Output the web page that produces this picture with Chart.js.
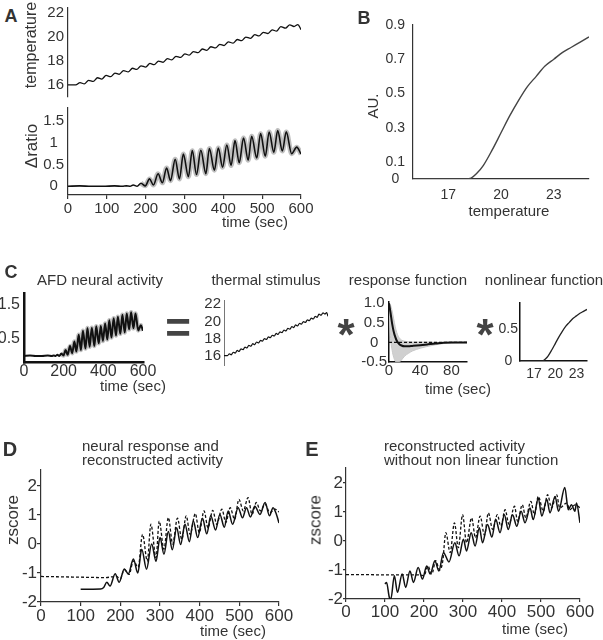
<!DOCTYPE html>
<html lang="en">
<head>
<meta charset="utf-8">
<title>AFD thermal response model</title>
<script src="https://cdn.jsdelivr.net/npm/chart.js@4.4.1/dist/chart.umd.min.js"></script>
<style>
  body { margin: 0; background: #fff; }
  #fig { position: relative; width: 603px; height: 640px; overflow: hidden;
         font-family: "Liberation Sans", Arial, sans-serif; color: #333; }
  #fig canvas { position: absolute; }
  .t { position: absolute; transform: translate(-50%, -50%); line-height: 1; white-space: nowrap; }
  .r { position: absolute; transform: translate(-50%, -50%) rotate(-90deg); line-height: 1; white-space: nowrap; }
  .b { font-weight: bold; }
  .ttl { position: absolute; font-size: 15px; line-height: 14px; white-space: nowrap; }
</style>
</head>
<body>
<div id="fig">
  <canvas id="cTemp"></canvas>
  <canvas id="cRatio"></canvas>
  <canvas id="cSig"></canvas>
  <canvas id="cAfd"></canvas>
  <canvas id="cStim"></canvas>
  <canvas id="cResp"></canvas>
  <canvas id="cNonlin"></canvas>
  <canvas id="cD"></canvas>
  <canvas id="cE"></canvas>

  <!-- panel A -->
  <div class="t b" style="left:11px;top:16px;font-size:18px">A</div>
  <div class="r" style="left:31px;top:45px;font-size:16px">temperature</div>
  <div class="r" style="left:31px;top:146px;font-size:17px">&Delta;ratio</div>
  <div class="t" style="left:255px;top:221px;font-size:15px">time (sec)</div>

  <!-- panel B -->
  <div class="t b" style="left:364px;top:18px;font-size:18px">B</div>
  <div class="r" style="left:372px;top:106px;font-size:15px">AU.</div>
  <div class="t" style="left:509px;top:210px;font-size:15px">temperature</div>

  <!-- panel C -->
  <div class="t b" style="left:11px;top:272px;font-size:18px">C</div>
  <div class="t" style="left:100px;top:279px;font-size:15px">AFD neural activity</div>
  <div class="t" style="left:266px;top:279px;font-size:15px">thermal stimulus</div>
  <div class="t" style="left:408px;top:279px;font-size:15px">response function</div>
  <div class="t" style="left:544px;top:279px;font-size:15px">nonlinear function</div>
  <div class="t b" style="left:178px;top:328px;font-size:44px;color:#444">=</div>
  <div class="t b" style="left:346px;top:335px;font-size:44px;color:#444">*</div>
  <div class="t b" style="left:485px;top:335px;font-size:44px;color:#444">*</div>
  <div class="t" style="left:133px;top:385px;font-size:15px">time (sec)</div>
  <div class="t" style="left:458px;top:388px;font-size:15px">time (sec)</div>

  <!-- panel D -->
  <div class="t b" style="left:10px;top:449px;font-size:20px">D</div>
  <div class="ttl" style="left:82px;top:439px">neural response and<br>reconstructed activity</div>
  <div class="r" style="left:12px;top:520px;font-size:17px">zscore</div>
  <div class="t" style="left:233px;top:630px;font-size:15px">time (sec)</div>

  <!-- panel E -->
  <div class="t b" style="left:312px;top:449px;font-size:20px">E</div>
  <div class="ttl" style="left:384px;top:439px">reconstructed activity<br>without non linear function</div>
  <div class="r" style="left:315px;top:520px;font-size:17px">zscore</div>
  <div class="t" style="left:535px;top:628px;font-size:15px">time (sec)</div>
</div>

<script>
// ---------------- values ----------------
// A (top) / C thermal stimulus: temperature ramp
const tempTime = [0, 20, 31, 42, 53, 65, 76, 87, 98, 110, 121, 132, 143, 155, 166, 177, 188, 200,
  211, 222, 233, 245, 256, 267, 278, 290, 301, 312, 323, 335, 346, 357, 368, 380, 391, 402, 413,
  425, 436, 447, 458, 470, 481, 492, 503, 515, 526, 537, 548, 560, 571, 582, 592, 600];
const tempVal = [16.0, 16.0, 16.2, 16.09, 16.39, 16.3, 16.6, 16.49, 16.79, 16.7, 16.99, 16.89,
  17.19, 17.09, 17.39, 17.29, 17.59, 17.49, 17.79, 17.69, 17.99, 17.89, 18.19, 18.09, 18.38, 18.29,
  18.59, 18.48, 18.78, 18.69, 18.99, 18.88, 19.18, 19.09, 19.38, 19.28, 19.58, 19.48, 19.78, 19.68,
  19.98, 19.88, 20.18, 20.08, 20.37, 20.28, 20.58, 20.48, 20.85, 20.72, 21.0, 20.86, 21.02, 20.6];

// A (bottom) / C AFD neural activity: delta ratio
const ratioTime = [0, 30, 60, 90, 120, 140, 150, 160, 168, 178, 188, 199, 210, 220, 232, 243, 254,
  264, 276, 287, 297, 310, 320, 331, 342, 355, 364, 377, 387, 398, 409, 420, 430, 441, 452, 464,
  473, 486, 496, 508, 518, 530, 540, 552, 562, 576, 589, 600];
const ratioVal = [0.0, 0.01, 0.0, 0.0, 0.01, 0.0, 0.01, 0.0, 0.03, 0.0, 0.07, 0.01, 0.17, 0.03,
  0.29, 0.08, 0.42, 0.13, 0.62, 0.17, 0.74, 0.22, 0.82, 0.27, 0.83, 0.29, 0.87, 0.37, 0.88, 0.44,
  0.95, 0.48, 1.05, 0.54, 1.11, 0.6, 1.15, 0.65, 1.21, 0.69, 1.25, 0.78, 1.28, 0.81, 1.25, 0.75,
  0.9, 0.74];
const bandFrom = 10; // grey SEM band only visible once the oscillations start

// B / C nonlinear function
const sigTemp = [15, 16, 17, 18, 18.3, 18.6, 19, 19.5, 20, 20.5, 21, 21.5, 22, 22.5, 23, 23.5, 24, 24.5, 25];
const sigVal = [0, 0, 0, 0, 0.005, 0.03, 0.08, 0.17, 0.27, 0.37, 0.46, 0.54, 0.6, 0.66, 0.7, 0.74, 0.77, 0.8, 0.83];

// C response function (mean and spread of the fits)
const respTime = [0, 2, 4, 6, 8, 10, 13, 16, 20, 25, 30, 40, 50, 60, 70, 80, 90, 100];
const respMean = [1.0, 0.75, 0.48, 0.28, 0.14, 0.04, -0.04, -0.08, -0.1, -0.1, -0.09, -0.07, -0.05, -0.03, -0.01, 0, 0, 0];
const respUpper = [1.0, 0.95, 0.8, 0.6, 0.4, 0.25, 0.12, 0.06, 0.03, 0.02, 0.01, 0.01, 0.01, 0, 0, 0, 0, 0];
const respLower = [0.9, 0.1, -0.2, -0.38, -0.48, -0.5, -0.5, -0.45, -0.35, -0.28, -0.22, -0.15, -0.1, -0.06, -0.03, -0.02, -0.01, -0.01];
const respZeroTime = [0, 100];
const respZeroVal = [0, 0];

// D: neural response (solid) and reconstructed activity (dashed)
const dSolidTime = [100, 150, 158, 166, 174, 187, 197, 210, 220, 233, 244, 254, 266, 279, 290, 300,
  310, 321, 331, 342, 352, 363, 374, 384, 395, 407, 418, 428, 440, 451, 462, 472, 483, 497, 508,
  518, 528, 539, 552, 565, 576, 585, 594, 600];
const dSolidVal = [-1.56, -1.55, -1.5, -1.32, -1.45, -1.03, -1.32, -0.86, -1.03, -0.52, -1.0, -0.18,
  -0.87, 0.0, -0.6, 0.22, -0.35, 0.43, -0.2, 0.56, -0.02, 0.68, 0.08, 0.79, 0.22, 0.89, 0.35, 0.97,
  0.48, 1.02, 0.58, 1.14, 0.68, 1.25, 0.9, 1.25, 0.93, 1.3, 1.02, 1.43, 0.97, 1.25, 1.0, 0.72];
const dDashTime = [0, 40, 80, 120, 160, 190, 200, 210, 222, 233, 245, 256, 268, 277, 290, 298, 310,
  321, 332, 344, 355, 366, 376, 389, 399, 411, 421, 433, 443, 456, 466, 477, 488, 499, 510, 522,
  532, 543, 553, 565, 577, 590, 600];
const dDashVal = [-1.12, -1.13, -1.14, -1.15, -1.16, -1.12, -1.2, -0.88, -1.05, -0.58, -0.8, 0.33,
  -0.59, 0.68, -0.47, 0.79, -0.18, 0.91, 0.0, 0.89, 0.16, 0.97, 0.33, 1.05, 0.39, 1.14, 0.56, 1.16,
  0.68, 1.2, 0.74, 1.25, 0.85, 1.54, 1.14, 1.6, 1.02, 1.43, 1.14, 1.37, 1.08, 1.2, 1.1];

// E: reconstruction without the nonlinear function (solid) and dashed trace
const eSolidTime = [100, 104, 111, 115, 124, 132, 144, 153, 164, 173, 185, 196, 207, 216, 228, 238,
  250, 264, 279, 290, 301, 309, 321, 331, 342, 350, 363, 374, 384, 395, 406, 416, 427, 438, 449,
  459, 472, 480, 493, 502, 515, 523, 536, 545, 561, 570, 578, 587, 591, 600];
const eSolidVal = [-1.48, -1.43, -1.94, -2.0, -1.2, -1.77, -1.14, -1.6, -1.03, -1.43, -0.91, -1.31,
  -0.86, -1.14, -0.68, -1.03, -0.4, -0.72, -0.06, -0.51, 0.06, -0.34, 0.29, -0.17, 0.46, -0.06,
  0.57, 0.14, 0.74, 0.29, 0.91, 0.4, 0.91, 0.51, 1.03, 0.63, 1.14, 0.74, 1.48, 0.86, 1.43, 0.97,
  1.54, 1.03, 1.85, 1.08, 1.25, 1.03, 1.31, 0.63];
const eDashTime = [0, 50, 100, 150, 190, 200, 210, 220, 230, 240, 248, 256, 267, 278, 288, 299, 309,
  322, 332, 344, 355, 365, 376, 388, 397, 408, 418, 432, 440, 452, 461, 474, 483, 493, 506, 517,
  527, 540, 548, 566, 574, 587, 600];
const eDashVal = [-1.16, -1.16, -1.17, -1.17, -1.17, -1.2, -0.86, -1.14, -0.68, -1.0, -0.7, 0.29,
  -0.4, 0.63, -0.23, 0.91, -0.06, 0.8, 0.11, 0.86, 0.2, 0.97, 0.4, 0.91, 0.51, 1.08, 0.57, 1.2,
  0.68, 1.25, 0.8, 1.37, 0.91, 1.54, 1.03, 1.6, 1.14, 1.6, 1.14, 1.31, 1.08, 1.25, 1.15];

// tick values
const timeTicks = [0, 100, 200, 300, 400, 500, 600];
const timeTicksC = [0, 200, 400, 600];
const tempTicks = [16, 18, 20, 22];
const ratioTicks = [0, 0.5, 1, 1.5];
const ratioTicksC = [0.5, 1.5];
const auTicks = [0, 0.1, 0.3, 0.5, 0.7, 0.9];
const auTicksC = [0, 0.5];
const sigTempTicks = [17, 20, 23];
const respTimeTicks = [0, 40, 80];
const respTicks = [-0.5, 0, 0.5, 1];
const respTickLabels = ['-0.5', '0', '0.5', '1.0'];
const zTicks = [-2, -1, 0, 1, 2];

// ---------------- helpers ----------------
Chart.defaults.font.family = '"Liberation Sans", Arial, sans-serif';
Chart.defaults.color = '#333';

const pts = (xs, ys) => xs.map((x, i) => ({x: x, y: ys[i]}));

function axis(o, isY) {
  const col = o.bc || '#333', bw = o.bw || 1.2;
  return {
    type: 'linear', min: o.min, max: o.max,
    afterBuildTicks: s => { s.ticks = o.ticks.map(v => ({value: v})); },
    afterFit: s => { if (isY) s.width = o.size; else s.height = o.size; },
    border: {display: !o.hidden, color: col, width: bw},
    grid: {display: !!o.tl, drawOnChartArea: false, drawTicks: !!o.tl, tickLength: o.tl || 0,
           color: col, lineWidth: bw},
    ticks: {display: !o.hidden, font: {size: o.fs || 12}, padding: o.pad || 0,
            crossAlign: o.cross || 'near', maxRotation: 0, autoSkip: false, color: '#333',
            callback: (v, i) => o.labels ? o.labels[i] : String(v)}
  };
}

// box = wanted chart area in page pixels
function plot(id, box, xAx, yAx, datasets) {
  const pt = 20, pr = 24, pb = 16;
  const left = box.l - yAx.size, top = box.t - pt;
  const w = box.r + pr - left, h = box.b + xAx.size + pb - top;
  const cv = document.getElementById(id);
  cv.width = w; cv.height = h;
  cv.style.left = left + 'px'; cv.style.top = top + 'px';
  cv.style.width = w + 'px'; cv.style.height = h + 'px';
  return new Chart(cv, {
    type: 'line',
    data: {datasets: datasets},
    options: {
      responsive: false, animation: false, devicePixelRatio: 1, events: [],
      layout: {padding: {left: 0, top: pt, right: pr, bottom: pb}},
      plugins: {legend: {display: false}, tooltip: {enabled: false}},
      elements: {point: {radius: 0}},
      scales: {x: axis(xAx, false), y: axis(yAx, true)}
    }
  });
}

function line(xs, ys, color, width, extra) {
  return Object.assign({data: pts(xs, ys), borderColor: color, borderWidth: width,
    pointRadius: 0, fill: false, cubicInterpolationMode: 'monotone'}, extra || {});
}

// ---------------- A ----------------
plot('cTemp', {l: 68, t: 8, r: 301, b: 97},
  {hidden: true, min: 0, max: 600, ticks: [], size: 0},
  {min: 15, max: 22.4, ticks: tempTicks, size: 48, fs: 15, pad: 4},
  [line(tempTime, tempVal, '#111', 1.3)]);

plot('cRatio', {l: 68, t: 108, r: 301, b: 195},
  {min: 0, max: 600, ticks: timeTicks, size: 22, fs: 15, pad: 1, tl: 4},
  {min: -0.2, max: 1.8, ticks: ratioTicks, size: 48, fs: 15, pad: 4, cross: 'center'},
  [line(ratioTime, ratioVal, '#111', 1.6),
   line(ratioTime.slice(bandFrom), ratioVal.slice(bandFrom), 'rgba(175,175,175,0.8)', 5)]);

// ---------------- B ----------------
plot('cSig', {l: 413, t: 25, r: 589, b: 179},
  {min: 15, max: 25, ticks: sigTempTicks, size: 24, fs: 14, pad: 8},
  {min: 0, max: 0.9, ticks: auTicks, size: 50, fs: 14, pad: 8, cross: 'center'},
  [line(sigTemp, sigVal, '#444', 1.4)]);

// ---------------- C ----------------
plot('cAfd', {l: 24, t: 293, r: 143, b: 362},
  {min: 0, max: 600, ticks: timeTicksC, size: 20, fs: 16, pad: 0, bw: 2.5, bc: '#111'},
  {min: -0.18, max: 1.85, ticks: ratioTicksC, size: 24, fs: 16, pad: 4, bw: 2.5, bc: '#111'},
  [line(ratioTime, ratioVal, '#111', 2),
   line(ratioTime.slice(bandFrom), ratioVal.slice(bandFrom), 'rgba(175,175,175,0.8)', 4.5)]);

plot('cStim', {l: 224, t: 300, r: 328, b: 365},
  {hidden: true, min: 0, max: 600, ticks: [], size: 0},
  {min: 14.9, max: 22.5, ticks: tempTicks, size: 30, fs: 15, pad: 3, bw: 1, bc: '#777'},
  [line(tempTime, tempVal, '#111', 1.2)]);

plot('cResp', {l: 389, t: 302, r: 467, b: 362},
  {min: 0, max: 100, ticks: respTimeTicks, size: 18, fs: 15, pad: 0, bw: 1.5, bc: '#111'},
  {min: -0.5, max: 1.03, ticks: respTicks, labels: respTickLabels, size: 32, fs: 15, pad: 2,
   cross: 'center', bw: 1.5, bc: '#111'},
  [line(respTime, respMean, '#111', 2),
   line(respZeroTime, respZeroVal, '#111', 1.2, {borderDash: [3, 2]}),
   line(respTime, respUpper, '#c8c8c8', 1, {fill: '+1', backgroundColor: 'rgba(200,200,200,0.85)'}),
   line(respTime, respLower, '#c8c8c8', 1)]);

plot('cNonlin', {l: 520, t: 303, r: 587, b: 361},
  {min: 15, max: 24.5, ticks: sigTempTicks, size: 22, fs: 14, pad: 5, bw: 1.5, bc: '#111'},
  {min: 0, max: 0.9, ticks: auTicksC, size: 26, fs: 14, pad: 2, cross: 'center', bw: 1.5, bc: '#111'},
  [line(sigTemp, sigVal, '#222', 1.3)]);

// ---------------- D ----------------
plot('cD', {l: 41, t: 470, r: 279, b: 602},
  {min: 0, max: 600, ticks: timeTicks, size: 26, fs: 17, pad: 0, tl: 4},
  {min: -2, max: 2.55, ticks: zTicks, size: 40, fs: 17, pad: 0, tl: 4},
  [line(dSolidTime, dSolidVal, '#111', 1.5),
   line(dDashTime, dDashVal, '#111', 1.3, {borderDash: [3, 2]})]);

// ---------------- E ----------------
plot('cE', {l: 346, t: 468, r: 580, b: 599},
  {min: 0, max: 600, ticks: timeTicks, size: 26, fs: 17, pad: 0, tl: 3},
  {min: -2, max: 2.52, ticks: zTicks, size: 40, fs: 17, pad: 0, tl: 3},
  [line(eSolidTime, eSolidVal, '#111', 1.5),
   line(eDashTime, eDashVal, '#111', 1.3, {borderDash: [3, 2]})]);
</script>
</body>
</html>
